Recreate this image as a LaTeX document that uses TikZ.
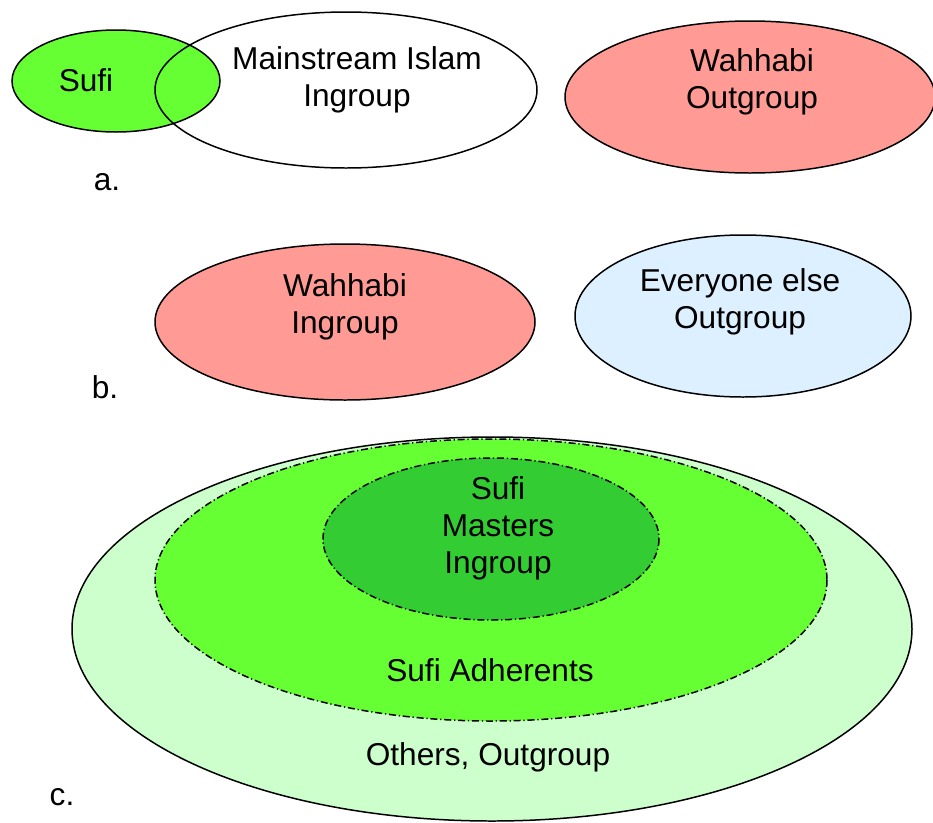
\documentclass[tikz,border=0pt]{standalone}
\usepackage{fontspec}
\setmainfont{Liberation Sans}
\usetikzlibrary{positioning}

\definecolor{sufigreen}{HTML}{66FF33}
\definecolor{mastergreen}{HTML}{33CC33}
\definecolor{palegreen}{HTML}{CCFFCC}
\definecolor{wahhabired}{HTML}{FF9B94}
\definecolor{paleblue}{HTML}{DDF0FF}

\begin{document}
\begin{tikzpicture}[x=0.02cm, y=-0.02cm, line width=0.85pt,
	label/.style={align=center, font=\fontsize{18}{21}\selectfont, inner sep=0pt},
	dashdot/.style={dash pattern=on 4pt off 1.6pt on 0.7pt off 1.6pt}]
	\useasboundingbox (0,0) rectangle (933,822);

	% a.
	\fill[white] (346,90) ellipse [x radius=191, y radius=78];
	\filldraw[fill=sufigreen] (116,81) ellipse [x radius=104, y radius=51];
	\draw (346,90) ellipse [x radius=191, y radius=78];
	\filldraw[fill=wahhabired] (750,97) ellipse [x radius=185, y radius=76];

	\node [label] (sufi)       at (86,80)  {Sufi};
	\node [label] (mainstream) at (357,80) {Mainstream Islam\\Ingroup};
	\node [label] (wahout)     at (752,82) {Wahhabi\\Outgroup};
	\node [label] (a)          at (107,182) {a.};

	% b.
	\filldraw[fill=wahhabired] (345,322) ellipse [x radius=190, y radius=78];
	\filldraw[fill=paleblue]   (743,316) ellipse [x radius=168, y radius=81];

	\node [label] (wahin)    at (345,307) {Wahhabi\\Ingroup};
	\node [label] (everyone) at (740,302) {Everyone else\\Outgroup};
	\node [label] (b)        at (105,387) {b.};

	% c.
	\filldraw[fill=palegreen] (492,629) ellipse [x radius=420, y radius=192];
	\filldraw[fill=sufigreen, dashdot] (491,580) ellipse [x radius=336, y radius=141];
	\filldraw[fill=mastergreen, dashdot] (491,539) ellipse [x radius=168, y radius=81];

	\node [label] (masters)   at (498,528) {Sufi\\Masters\\Ingroup};
	\node [label] (adherents) at (490,670) {Sufi Adherents};
	\node [label] (others)    at (488,757) {Others, Outgroup};
	\node [label] (c)         at (62,797)  {c.};
\end{tikzpicture}
\end{document}
